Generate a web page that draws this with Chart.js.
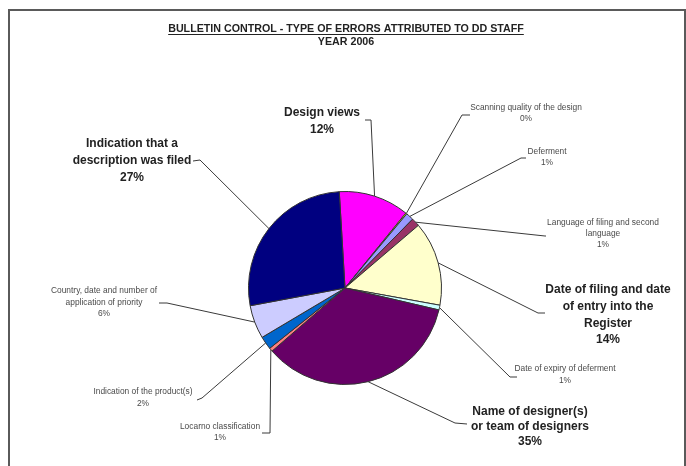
<!DOCTYPE html>
<html>
<head>
<meta charset="utf-8">
<title>Bulletin control - type of errors 2006</title>
<script src="https://cdn.jsdelivr.net/npm/chart.js"></script>
<style>
  body { margin: 0; background: #fff; }
  #wrap { position: relative; width: 686px; height: 466px; overflow: hidden; }
  #frame { position: absolute; left: 8px; top: 9px; width: 674px; height: 480px; border: 2px solid #5a5a5a; }
  canvas { position: absolute; left: 0; top: 0; }
</style>
</head>
<body>
<div id="wrap">
  <div id="frame"></div>
  <canvas id="myChart" width="686" height="466"></canvas>
</div>
<script>
const title = "BULLETIN CONTROL - TYPE OF ERRORS ATTRIBUTED TO DD STAFF";
const subtitle = "YEAR 2006";

// slices, clockwise from the top
const categories = [
  "Design views",
  "Scanning quality of the design",
  "Deferment",
  "Language of filing and second\nlanguage",
  "Date of filing and date\nof entry into the\nRegister",
  "Date of expiry of deferment",
  "Name of designer(s)\nor team of designers",
  "Locarno classification",
  "Indication of the product(s)",
  "Country, date and number of\napplication of priority",
  "Indication that a\ndescription was filed",
];
const shares = [11.8, 0.2, 1.3, 1.4, 14.1, 0.8, 35.0, 0.6, 2.2, 5.6, 27.0];
const colors = [
  "#FF00FF", "#FFFF00", "#9999FF", "#993366", "#FFFFCC", "#CCFFFF",
  "#660066", "#FF8080", "#0066CC", "#CCCCFF", "#000080",
];

// where each label sits and where its leader line starts / bends
const labelLayout = [
  { cx: 322, y: 113, big: true, lh: 16.5, from: [365, 120], elbow: [371, 120] },
  { cx: 526, y: 108, big: false, lh: 11, from: [470, 115], elbow: [462, 115] },
  { cx: 547, y: 152, big: false, lh: 11, from: [526, 158], elbow: [521, 158] },
  { cx: 603, y: 223, big: false, lh: 11, from: [546, 236], elbow: [545, 236] },
  { cx: 608, y: 290, big: true, lh: 16.7, from: [545, 313], elbow: [538, 313] },
  { cx: 565, y: 369, big: false, lh: 12, from: [517, 377], elbow: [510, 377] },
  { cx: 530, y: 412, big: true, lh: 15, from: [467, 424], elbow: [455, 423] },
  { cx: 220, y: 427, big: false, lh: 11, from: [262, 433], elbow: [270, 433] },
  { cx: 143, y: 392, big: false, lh: 12, from: [197, 400], elbow: [202, 398] },
  { cx: 104, y: 291, big: false, lh: 11.5, from: [159, 303], elbow: [167, 303] },
  { cx: 132, y: 144, big: true, lh: 17, from: [193, 161], elbow: [200, 160] },
];

const leaderLabels = {
  id: "leaderLabels",
  afterDraw(chart) {
    const ctx = chart.ctx;
    const arcs = chart.getDatasetMeta(0).data;
    ctx.save();

    // title, underlined first line
    ctx.fillStyle = "#222";
    ctx.textAlign = "center";
    ctx.textBaseline = "middle";
    ctx.font = "bold 10.7px 'Liberation Sans', Arial, sans-serif";
    ctx.fillText(title, 346, 29);
    const tw = ctx.measureText(title).width;
    ctx.strokeStyle = "#222";
    ctx.lineWidth = 1;
    ctx.beginPath();
    ctx.moveTo(346 - tw / 2, 34.5);
    ctx.lineTo(346 + tw / 2, 34.5);
    ctx.stroke();
    ctx.fillText(subtitle, 346, 42);

    arcs.forEach((arc, i) => {
      const { x, y, startAngle, endAngle, outerRadius } = arc.getProps(
        ["x", "y", "startAngle", "endAngle", "outerRadius"],
        true,
      );
      const mid = (startAngle + endAngle) / 2;
      const ax = x + Math.cos(mid) * outerRadius;
      const ay = y + Math.sin(mid) * outerRadius;
      const p = labelLayout[i];

      ctx.strokeStyle = "#3a3a3a";
      ctx.lineWidth = 1;
      ctx.beginPath();
      ctx.moveTo(p.from[0], p.from[1]);
      ctx.lineTo(p.elbow[0], p.elbow[1]);
      ctx.lineTo(ax, ay);
      ctx.stroke();

      const lines = categories[i].split("\n").concat(Math.round(shares[i]) + "%");
      ctx.font = p.big
        ? "bold 12px 'Liberation Sans', Arial, sans-serif"
        : "8.4px 'Liberation Sans', Arial, sans-serif";
      ctx.fillStyle = p.big ? "#222" : "#4a4a4a";
      lines.forEach((t, k) => ctx.fillText(t, p.cx, p.y + k * p.lh));
    });
    ctx.restore();
  },
};

new Chart(document.getElementById("myChart"), {
  type: "pie",
  data: {
    labels: categories,
    datasets: [
      {
        data: shares,
        backgroundColor: colors,
        borderColor: "#333",
        borderWidth: 1,
      },
    ],
  },
  options: {
    responsive: false,
    animation: false,
    rotation: -3.4,
    layout: { padding: { top: 191, bottom: 81, left: 4, right: 0 } },
    plugins: { legend: { display: false }, tooltip: { enabled: false } },
  },
  plugins: [leaderLabels],
});
</script>
</body>
</html>
